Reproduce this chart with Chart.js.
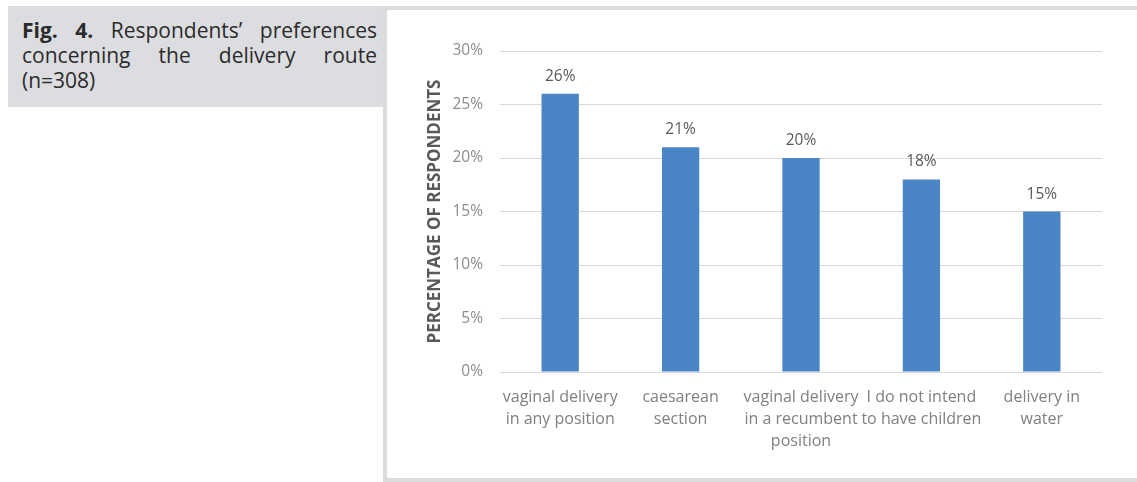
<!DOCTYPE html>
<html>
<head>
<meta charset="utf-8">
<script src="https://cdn.jsdelivr.net/npm/chart.js@4"></script>
<style>
    body { margin: 0; background: #fff; width: 1137px; height: 482px; position: relative; overflow: hidden; }
    #caption {
        position: absolute; left: 8px; top: 6px; width: 375px; height: 101px;
        background: #dcdde0; box-sizing: border-box; padding: 12px 6px 0 14px;
        font-family: "Open Sans", sans-serif; font-size: 21px; line-height: 25px;
        color: #2b2b2b; text-align: justify; text-align-last: left;
    }
    #frame {
        position: absolute; left: 383px; top: 6px; width: 754px; height: 476px;
        box-sizing: border-box; border: 4px solid #dcdcdc; border-right: none; background: #fff;
    }
    #chart-box { position: absolute; left: 0; top: 1px; width: 750px; height: 467px; }
</style>
</head>
<body>
<div id="caption"><b>Fig. 4.</b> Respondents’ preferences concerning the delivery route (n=308)</div>
<div id="frame">
    <div id="chart-box"><canvas id="myChart"></canvas></div>
</div>
<script>
let categories = [
    ['vaginal delivery', 'in any position'],
    ['caesarean', 'section'],
    ['vaginal delivery', 'in a recumbent', 'position'],
    ['I do not intend', 'to have children'],
    ['delivery in', 'water']
];
let percents = [26, 21, 20, 18, 15];
let y_ticks = [0, 5, 10, 15, 20, 25, 30];

const chart_font = '"Open Sans", sans-serif';

// draws the % value over every bar
const bar_labels = {
    id: 'bar_labels',
    afterDatasetsDraw(chart) {
        let ctx = chart.ctx;
        let meta = chart.getDatasetMeta(0);
        ctx.save();
        ctx.font = '15.5px ' + chart_font;
        ctx.fillStyle = '#595959';
        ctx.textAlign = 'center';
        ctx.textBaseline = 'alphabetic';
        meta.data.forEach((bar, i) => {
            ctx.fillText(percents[i] + '%', bar.x, bar.y - 13);
        });
        ctx.restore();
    }
};

var ctx = document.getElementById('myChart');
chart = new Chart(ctx, {
    type: 'bar',
    data: {
        labels: categories,
        datasets: [
            {
                label: 'Percentage',
                data: percents,
                backgroundColor: '#4a86c5',
                borderWidth: 0,
                barPercentage: 1,
                categoryPercentage: 0.31
            }
        ]
    },
    options: {
        animation: false,
        maintainAspectRatio: false,
        responsive: true,
        layout: { padding: { left: 38, right: 35, top: 40, bottom: 0 } },
        scales: {
            y: {
                min: 0,
                max: 30,
                afterBuildTicks: (axis) => { axis.ticks = y_ticks.map(v => ({ value: v })); },
                afterFit: (axis) => { axis.width = 75; },
                border: { display: false },
                grid: { color: '#d9d9d9', lineWidth: 1, drawTicks: false },
                ticks: {
                    padding: 17,
                    color: '#8c8c8c',
                    font: { size: 15.5, family: chart_font },
                    callback: (v) => v + '%'
                },
                title: {
                    display: true,
                    text: 'PERCENTAGE OF RESPONDENTS',
                    color: '#595959',
                    padding: { top: 0, bottom: 0 },
                    font: { size: 17, weight: 'bold', family: chart_font }
                }
            },
            x: {
                afterFit: (axis) => { axis.height = 106; },
                border: { display: false },
                grid: { display: false, drawTicks: false },
                ticks: {
                    padding: 14,
                    maxRotation: 0,
                    autoSkip: false,
                    color: '#7f7f7f',
                    font: { size: 16, family: chart_font, lineHeight: 1.375 }
                }
            }
        },
        plugins: {
            legend: { display: false },
            tooltip: { enabled: false }
        }
    },
    plugins: [bar_labels]
});
</script>
</body>
</html>
